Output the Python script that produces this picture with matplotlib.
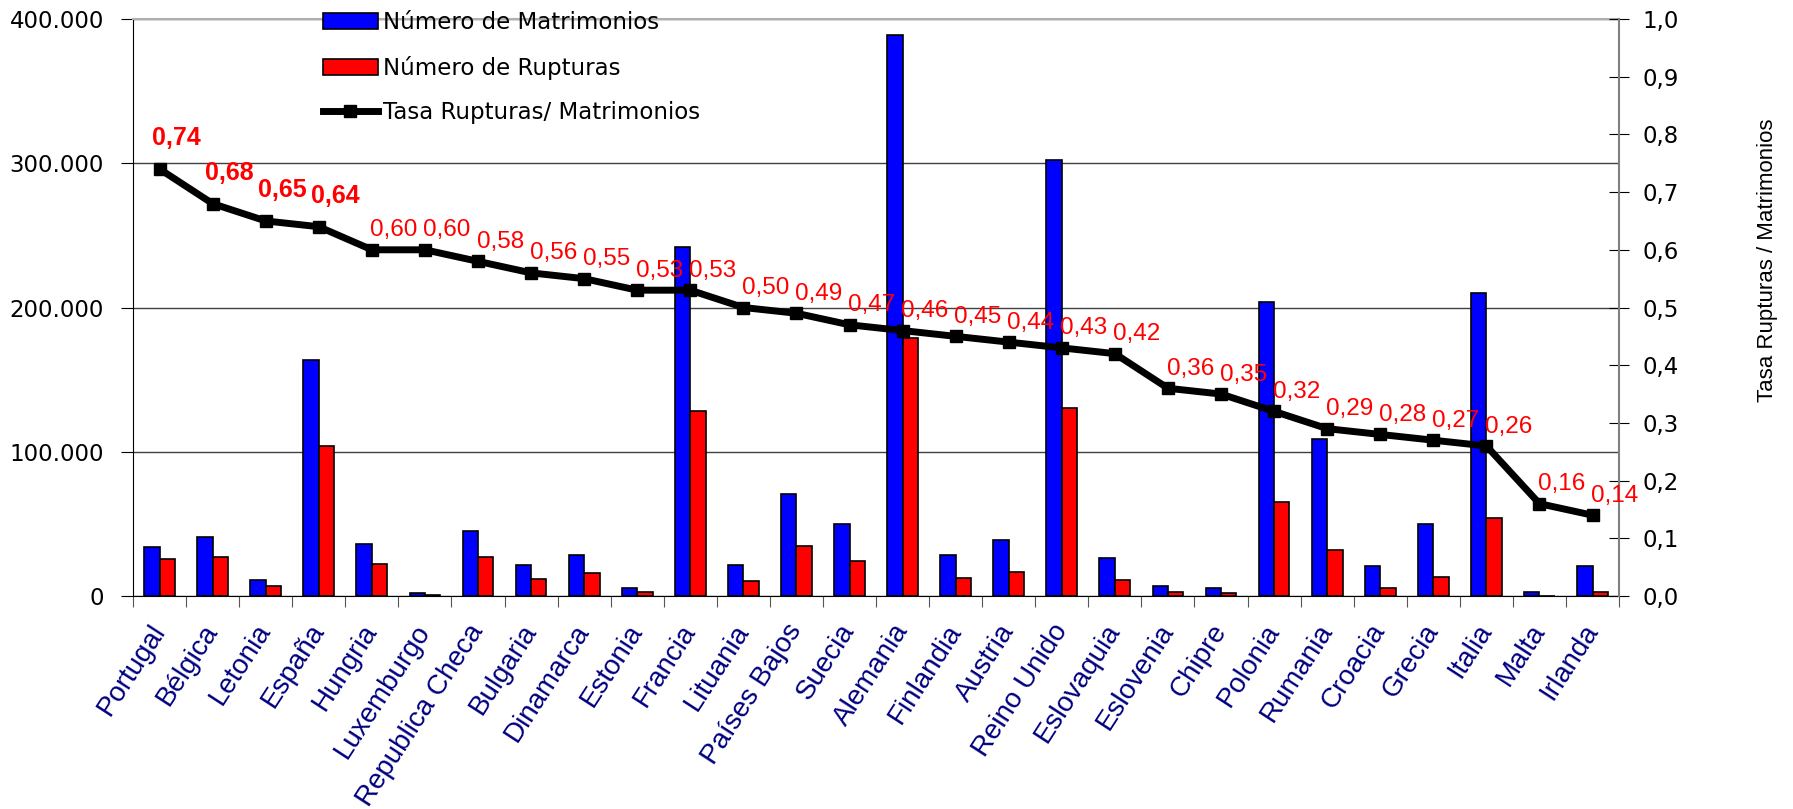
import matplotlib
matplotlib.use('Agg')
import matplotlib.pyplot as plt
import numpy as np
from matplotlib.ticker import FuncFormatter

# Datos
paises = ['Portugal', 'Bélgica', 'Letonia', 'España', 'Hungria', 'Luxemburgo',
          'Republica Checa', 'Bulgaria', 'Dinamarca', 'Estonia', 'Francia',
          'Lituania', 'Países Bajos', 'Suecia', 'Alemania', 'Finlandia', 'Austria',
          'Reino Unido', 'Eslovaquia', 'Eslovenia', 'Chipre', 'Polonia', 'Rumania',
          'Croacia', 'Grecia', 'Italia', 'Malta', 'Irlanda']

matrimonios = [34200, 40600, 11000, 163800, 35800, 2000, 45000, 21500, 28600, 5600,
               242000, 21500, 70800, 50000, 388900, 28600, 39000, 302000, 26000,
               7000, 5600, 204000, 109000, 20700, 50000, 210000, 2500, 21000]

rupturas = [25400, 27000, 7000, 104000, 22000, 1000, 27000, 12000, 16000, 3000,
            128500, 10300, 35000, 24000, 179000, 12700, 16700, 130000, 11000,
            2500, 2000, 65000, 31800, 5600, 13000, 54000, 300, 2500]

tasa = [0.74, 0.68, 0.65, 0.64, 0.60, 0.60, 0.58, 0.56, 0.55, 0.53, 0.53, 0.50,
        0.49, 0.47, 0.46, 0.45, 0.44, 0.43, 0.42, 0.36, 0.35, 0.32, 0.29, 0.28,
        0.27, 0.26, 0.16, 0.14]

n = len(paises)
x = np.arange(n)

fig = plt.figure(figsize=(17.93, 8.09), dpi=100)
ax = fig.add_axes([0.0742, 0.2633, 0.8288, 0.7132])

ax.bar(x - 0.145, matrimonios, 0.29, color='#0000ff', edgecolor='black',
       linewidth=1.2, label='Número de Matrimonios', zorder=2)
ax.bar(x + 0.145, rupturas, 0.29, color='#ff0000', edgecolor='black',
       linewidth=1.2, label='Número de Rupturas', zorder=2)

ax.set_xlim(-0.5, n - 0.5)
ax.set_ylim(0, 400000)
ax.set_yticks(range(0, 400001, 100000))
ax.yaxis.set_major_formatter(FuncFormatter(lambda v, p: f"{int(v):,}".replace(',', '.')))
ax.tick_params(axis='y', direction='out', length=9, pad=12, labelsize=16.5)
ax.grid(axis='y', color='#404040', linewidth=1)
ax.set_axisbelow(True)

# marcas entre categorias, etiquetas centradas
ax.set_xticks(np.arange(-0.5, n, 1))
ax.tick_params(axis='x', which='major', length=8, color='#555555', labelbottom=False)
ax.set_xticks(x, minor=True)
ax.set_xticklabels(paises, minor=True, rotation=57, ha='right', va='center',
                   rotation_mode='anchor', color='#000080', fontsize=20,
                   fontfamily='Liberation Sans')
ax.tick_params(axis='x', which='minor', length=0, pad=22)

ax.spines['left'].set_color('black')
ax.spines['bottom'].set_color('black')
ax.spines['top'].set_color('#b0b0b0')
ax.spines['top'].set_linewidth(1.5)
ax.spines['right'].set_visible(False)

# eje secundario con la tasa
ax2 = ax.twinx()
ax2.plot(x, tasa, color='black', linewidth=5, marker='s', markersize=8,
         label='Tasa Rupturas/ Matrimonios', zorder=3)
ax2.set_ylim(0, 1)
ax2.set_yticks(np.arange(0, 1.01, 0.1))
ax2.yaxis.set_major_formatter(FuncFormatter(lambda v, p: f"{v:.1f}".replace('.', ',')))
ax2.tick_params(axis='y', direction='inout', length=14, pad=10, labelsize=16.5)
ax2.spines['right'].set_color('#808080')
ax2.spines['right'].set_linewidth(1.5)
for s in ['left', 'top', 'bottom']:
    ax2.spines[s].set_visible(False)

for i, v in enumerate(tasa):
    txt = f"{v:.2f}".replace('.', ',')
    if i < 4:
        ax2.annotate(txt, (x[i], v), xytext=(12, 22), textcoords='offset points',
                     ha='center', va='center', color='red', fontsize=18,
                     fontweight='bold', fontfamily='Liberation Sans')
    else:
        ax2.annotate(txt, (x[i], v), xytext=(16, 14), textcoords='offset points',
                     ha='center', va='center', color='red', fontsize=17.5,
                     fontfamily='Liberation Sans')

h1, l1 = ax.get_legend_handles_labels()
h2, l2 = ax2.get_legend_handles_labels()
ax2.legend(h1 + h2, l1 + l2, loc='upper left', bbox_to_anchor=(0.175, 0.998),
           bbox_transform=fig.transFigure, frameon=False, fontsize=16.5,
           handlelength=2.4, handletextpad=0.2, labelspacing=0.95,
           borderpad=0.4, borderaxespad=0)

fig.text(0.9855, 0.678, 'Tasa Rupturas / Matrimonios', rotation=90, ha='center',
         va='center', fontsize=16, fontfamily='Liberation Sans')

fig.savefig('out.png', dpi=100)
